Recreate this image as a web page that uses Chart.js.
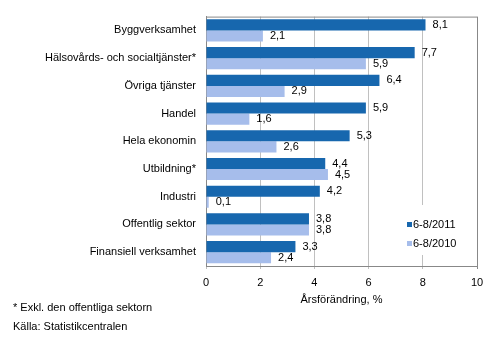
<!DOCTYPE html>
<html>
<head>
<meta charset="utf-8">
<script src="https://cdn.jsdelivr.net/npm/chart.js@4/dist/chart.umd.min.js"></script>
<style>
  body { margin: 0; background: #fff; }
  #wrap { width: 497px; height: 342px; position: relative; }
</style>
</head>
<body>
<div id="wrap"><canvas id="chart"></canvas></div>
<script>
const categories = ['Byggverksamhet', 'Hälsovårds- och socialtjänster*', 'Övriga tjänster', 'Handel',
    'Hela ekonomin', 'Utbildning*', 'Industri', 'Offentlig sektor', 'Finansiell verksamhet'];
const values2011 = [8.1, 7.7, 6.4, 5.9, 5.3, 4.4, 4.2, 3.8, 3.3];
const values2010 = [2.1, 5.9, 2.9, 1.6, 2.6, 4.5, 0.1, 3.8, 2.4];
const seriesNames = ['6-8/2011', '6-8/2010'];
const xTicks = [0, 2, 4, 6, 8, 10];
const footnotes = ['* Exkl. den offentliga sektorn', 'Källa: Statistikcentralen'];

const dark = '#1767ae';
const light = '#a6bdeb';
const font = 'Liberation Sans, Arial, sans-serif';

// value labels, frame top line, legend box and footnotes
const extras = {
    id: 'extras',
    afterDatasetsDraw(chart) {
        const ctx = chart.ctx;
        const area = chart.chartArea;
        ctx.save();
        ctx.font = '11px ' + font;
        ctx.fillStyle = '#000';
        ctx.textBaseline = 'middle';
        ctx.textAlign = 'left';
        chart.data.datasets.forEach((ds, i) => {
            chart.getDatasetMeta(i).data.forEach((bar, j) => {
                ctx.fillText(ds.data[j].toFixed(1).replace('.', ','), bar.x + 7, bar.y);
            });
        });

        // top edge of the plot frame
        ctx.strokeStyle = '#888';
        ctx.lineWidth = 1;
        ctx.beginPath();
        ctx.moveTo(area.left, area.top + 0.5);
        ctx.lineTo(area.right, area.top + 0.5);
        ctx.stroke();

        // legend inside plot
        const lx = area.right - 75, ly = area.bottom - 61;
        ctx.fillStyle = '#fff';
        ctx.fillRect(lx, ly, 74, 50);
        [dark, light].forEach((c, k) => {
            const cy = ly + 19.5 + k * 19;
            ctx.fillStyle = c;
            ctx.fillRect(lx + 5, cy - 2.5, 5, 5);
            ctx.fillStyle = '#000';
            ctx.fillText(seriesNames[k], lx + 11, cy);
        });

        footnotes.forEach((t, k) => ctx.fillText(t, 13, 308 + k * 19));
        ctx.restore();
    }
};

new Chart(document.getElementById('chart'), {
    type: 'bar',
    data: {
        labels: categories,
        datasets: [
            { label: seriesNames[0], data: values2011, backgroundColor: dark },
            { label: seriesNames[1], data: values2010, backgroundColor: light }
        ]
    },
    options: {
        indexAxis: 'y',
        responsive: true,
        maintainAspectRatio: false,
        animation: false,
        categoryPercentage: 0.8,
        barPercentage: 1,
        layout: { padding: { top: 16, right: 20, left: 0, bottom: 0 } },
        plugins: {
            legend: { display: false },
            tooltip: { enabled: false }
        },
        scales: {
            x: {
                min: 0,
                max: 10,
                afterBuildTicks: s => { s.ticks = xTicks.map(v => ({ value: v })); },
                afterFit: s => { s.height = 76; },
                grid: {
                    color: c => c.tick && c.tick.value === 10 ? '#888' : '#c0c0c0',
                    tickLength: 3
                },
                border: { color: '#888' },
                ticks: { color: '#000', padding: 7, font: { family: font, size: 11 } },
                title: {
                    display: true,
                    text: 'Årsförändring, %',
                    color: '#000',
                    font: { family: font, size: 11 },
                    padding: { top: 0, bottom: 35 }
                }
            },
            y: {
                afterFit: s => { s.width = 206; },
                grid: { display: false, drawTicks: false },
                border: { display: true, color: '#888' },
                ticks: { color: '#000', padding: 10, font: { family: font, size: 11 } }
            }
        }
    },
    plugins: [extras]
});
</script>
</body>
</html>
